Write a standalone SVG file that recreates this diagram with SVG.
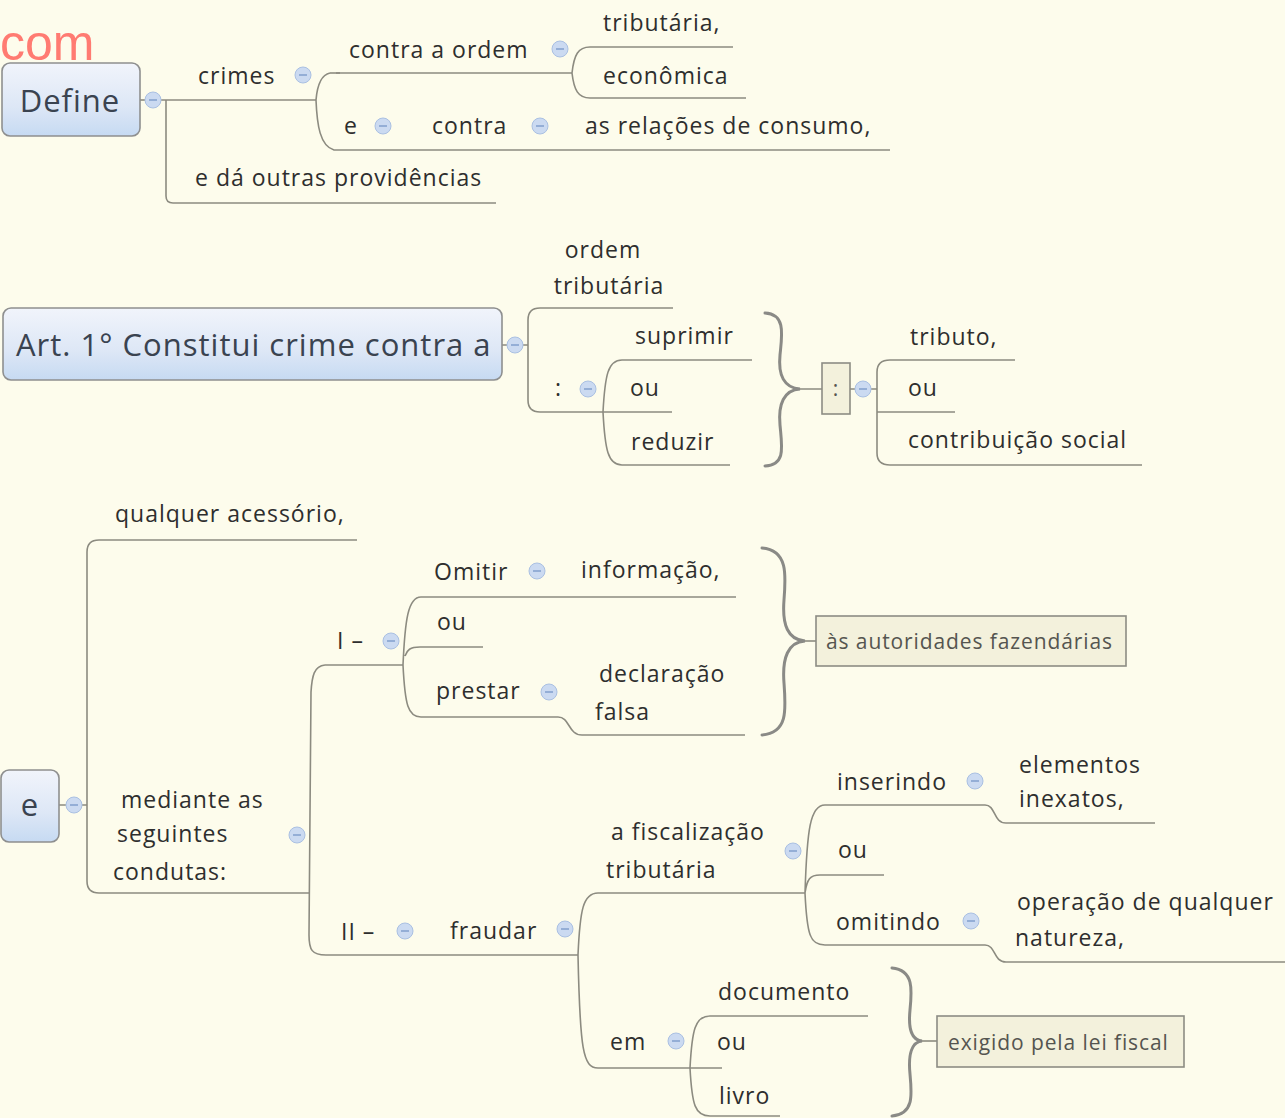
<svg xmlns="http://www.w3.org/2000/svg" width="1285" height="1118" viewBox="0 0 1285 1118">
<defs>
<linearGradient id="ng" x1="0" y1="0" x2="0" y2="1">
<stop offset="0" stop-color="#f1f4fb"/>
<stop offset="0.6" stop-color="#dde7f6"/>
<stop offset="1" stop-color="#c6daf2"/>
</linearGradient>
<style>
.bg{fill:#fdfcec}
.node{fill:url(#ng);stroke:#8e8f8f;stroke-width:1.6}
.nt{font-family:"Open Sans","Noto Sans",sans-serif;font-size:31px;letter-spacing:1px;fill:#3a4350}
.t{font-family:"Open Sans","Noto Sans",sans-serif;font-size:23px;letter-spacing:1px;fill:#2e2e2e}
.bt{font-family:"Open Sans","Noto Sans",sans-serif;font-size:21px;letter-spacing:0.9px;fill:#555550}
.box{fill:#f3f1dc;stroke:#8c8c84;stroke-width:1.6}
.ln{fill:none;stroke:#8c8b80;stroke-width:1.6}
.br{fill:none;stroke:#8a8a86;stroke-width:3;stroke-linecap:round}
.cc{fill:#cbdaf1;stroke:#aac0e2;stroke-width:1}
.cm{stroke:#7d9bcb;stroke-width:1.4}
</style>
</defs>
<rect class="bg" x="0" y="0" width="1285" height="1118"/>
<text x="0" y="60" font-family="Liberation Sans, Arial, sans-serif" font-size="50" fill="#ff7b72">com</text>

<g id="connectors">
<!-- Define -->
<path class="ln" d="M140 100 H145"/>
<path class="ln" d="M161 100 H316"/>
<path class="ln" d="M166 100 V196 Q166 203 173 203 H496"/>
<path class="ln" d="M336 73 H572 M330 73 C320 75 317 88 316 100 C317 125 320 146 334 150 H890"/>
<path class="ln" d="M330 73 H340"/>
<path class="ln" d="M572 73 C574 55 578 47 590 47 H733 M572 73 C574 90 578 98 590 98 H746"/>
<!-- Art 1 -->
<path class="ln" d="M502 345 H507 M523 345 H528"/>
<path class="ln" d="M540 308 H673 M540 308 Q528 308 528 320 V400 Q528 412 540 412 H672"/>
<path class="ln" d="M603 412 C605 375 608 360 622 360 H752 M603 412 C605 450 608 465 622 465 H730"/>
<path class="br" d="M765 313 C786 314 782 335 780 355 C778 375 784 388 800 389 C784 390 778 404 780 425 C782 447 786 465 765 466"/>
<path class="ln" d="M800 389 H822 M850 389 H855 M871 389 H877"/>
<path class="ln" d="M890 360 H1015 M890 360 Q877 360 877 372 V453 Q877 465 890 465 H1142 M877 412 H955"/>
<!-- e -->
<path class="ln" d="M59 805 H66 M82 805 H87"/>
<path class="ln" d="M99 540 H357 M99 540 Q87 540 87 552 V881 Q87 893 99 893 H310"/>
<path class="ln" d="M325 665 H403 M325 665 C314 666 312 676 311 692 L309 935 C309 950 312 955 326 955 H578"/>
<path class="ln" d="M403 665 C405 620 408 597 421 597 H736 M403 665 C405 705 408 717 421 717 H558 C570 717 568 735 582 735 H745 M405 656 C407 650 410 647 420 647 H483"/>
<path class="br" d="M762 548 C788 550 786 575 784 600 C782 625 788 640 805 641 C788 642 782 658 784 683 C786 710 788 733 762 735"/>
<path class="ln" d="M805 641 H816"/>
<path class="ln" d="M578 955 C580 910 583 893 598 893 H805 M578 955 C580 1050 583 1068 598 1068 H722"/>
<path class="ln" d="M805 893 C807 830 810 805 825 805 H985 C996 805 993 823 1006 823 H1155 M805 893 C807 879 810 875 820 875 H884 M805 893 C807 935 810 945 825 945 H985 C996 945 993 962 1006 962 H1285"/>
<path class="ln" d="M690 1068 C692 1030 695 1016 710 1016 H868 M690 1068 C692 1105 695 1116 710 1116 H780"/>
<path class="br" d="M892 968 C914 970 912 990 910 1010 C908 1030 912 1040 922 1041 C912 1042 908 1054 910 1074 C912 1095 914 1114 892 1116"/>
<path class="ln" d="M922 1041 H937"/>
</g>

<g id="node-define">
<rect class="node" x="2" y="63" width="138" height="73" rx="8"/>
<text class="nt" x="70" y="112" text-anchor="middle">Define</text>
<circle class="cc" cx="153" cy="100" r="8"/><line class="cm" x1="149" y1="100" x2="157" y2="100"/>
</g>
<g id="n-crimes"><text class="t" x="198" y="84">crimes</text><circle class="cc" cx="303" cy="75" r="8"/><line class="cm" x1="299" y1="75" x2="307" y2="75"/></g>
<g id="n-contra-ordem"><text class="t" x="349" y="58">contra a ordem</text><circle class="cc" cx="560" cy="49" r="8"/><line class="cm" x1="556" y1="49" x2="564" y2="49"/></g>
<g id="n-tributaria"><text class="t" x="603" y="31">tributária,</text></g>
<g id="n-economica"><text class="t" x="603" y="84">econômica</text></g>
<g id="n-e1"><text class="t" x="344" y="134">e</text><circle class="cc" cx="383" cy="126" r="8"/><line class="cm" x1="379" y1="126" x2="387" y2="126"/></g>
<g id="n-contra"><text class="t" x="432" y="134">contra</text><circle class="cc" cx="540" cy="126" r="8"/><line class="cm" x1="536" y1="126" x2="544" y2="126"/></g>
<g id="n-relacoes"><text class="t" x="585" y="134">as relações de consumo,</text></g>
<g id="n-outras"><text class="t" x="195" y="186">e dá outras providências</text></g>

<g id="node-art1">
<rect class="node" x="3" y="308" width="499" height="72" rx="8"/>
<text class="nt" x="16" y="356">Art. 1° Constitui crime contra a</text>
<circle class="cc" cx="515" cy="345" r="8"/><line class="cm" x1="511" y1="345" x2="519" y2="345"/>
</g>
<g id="n-ordem-trib"><text class="t" x="603" y="258" text-anchor="middle">ordem</text><text class="t" x="609" y="294" text-anchor="middle">tributária</text></g>
<g id="n-colon1"><text class="t" x="555" y="396">:</text><circle class="cc" cx="588" cy="389" r="8"/><line class="cm" x1="584" y1="389" x2="592" y2="389"/></g>
<g id="n-suprimir"><text class="t" x="635" y="344">suprimir</text></g>
<g id="n-ou1"><text class="t" x="630" y="396">ou</text></g>
<g id="n-reduzir"><text class="t" x="631" y="450">reduzir</text></g>
<g id="n-colon2"><rect class="box" x="822" y="363" width="28" height="51"/><text class="bt" x="836" y="396" text-anchor="middle">:</text><circle class="cc" cx="863" cy="389" r="8"/><line class="cm" x1="859" y1="389" x2="867" y2="389"/></g>
<g id="n-tributo"><text class="t" x="910" y="345">tributo,</text></g>
<g id="n-ou2"><text class="t" x="908" y="396">ou</text></g>
<g id="n-contrib"><text class="t" x="908" y="448">contribuição social</text></g>

<g id="node-e">
<rect class="node" x="1" y="770" width="58" height="72" rx="8"/>
<text class="nt" x="30" y="816" text-anchor="middle">e</text>
<circle class="cc" cx="74" cy="805" r="8"/><line class="cm" x1="70" y1="805" x2="78" y2="805"/>
</g>
<g id="n-acessorio"><text class="t" x="115" y="522">qualquer acessório,</text></g>
<g id="n-mediante"><text class="t" x="121" y="808">mediante as</text><text class="t" x="117" y="842">seguintes</text><text class="t" x="113" y="880">condutas:</text><circle class="cc" cx="297" cy="835" r="8"/><line class="cm" x1="293" y1="835" x2="301" y2="835"/></g>
<g id="n-I"><text class="t" x="337" y="649">I –</text><circle class="cc" cx="391" cy="641" r="8"/><line class="cm" x1="387" y1="641" x2="395" y2="641"/></g>
<g id="n-omitir"><text class="t" x="434" y="580">Omitir</text><circle class="cc" cx="537" cy="571" r="8"/><line class="cm" x1="533" y1="571" x2="541" y2="571"/></g>
<g id="n-informacao"><text class="t" x="581" y="578">informação,</text></g>
<g id="n-ou3"><text class="t" x="437" y="630">ou</text></g>
<g id="n-prestar"><text class="t" x="436" y="699">prestar</text><circle class="cc" cx="549" cy="692" r="8"/><line class="cm" x1="545" y1="692" x2="553" y2="692"/></g>
<g id="n-declaracao"><text class="t" x="599" y="682">declaração</text><text class="t" x="595" y="720">falsa</text></g>
<g id="n-autoridades"><rect class="box" x="816" y="616" width="310" height="50"/><text class="bt" x="826" y="649">às autoridades fazendárias</text></g>
<g id="n-II"><text class="t" x="341" y="940">II –</text><circle class="cc" cx="405" cy="931" r="8"/><line class="cm" x1="401" y1="931" x2="409" y2="931"/></g>
<g id="n-fraudar"><text class="t" x="450" y="939">fraudar</text><circle class="cc" cx="565" cy="929" r="8"/><line class="cm" x1="561" y1="929" x2="569" y2="929"/></g>
<g id="n-fiscalizacao"><text class="t" x="611" y="840">a fiscalização</text><text class="t" x="606" y="878">tributária</text><circle class="cc" cx="793" cy="851" r="8"/><line class="cm" x1="789" y1="851" x2="797" y2="851"/></g>
<g id="n-inserindo"><text class="t" x="837" y="790">inserindo</text><circle class="cc" cx="975" cy="781" r="8"/><line class="cm" x1="971" y1="781" x2="979" y2="781"/></g>
<g id="n-elementos"><text class="t" x="1019" y="773">elementos</text><text class="t" x="1019" y="807">inexatos,</text></g>
<g id="n-ou4"><text class="t" x="838" y="858">ou</text></g>
<g id="n-omitindo"><text class="t" x="836" y="930">omitindo</text><circle class="cc" cx="971" cy="921" r="8"/><line class="cm" x1="967" y1="921" x2="975" y2="921"/></g>
<g id="n-operacao"><text class="t" x="1017" y="910">operação de qualquer</text><text class="t" x="1015" y="946">natureza,</text></g>
<g id="n-em"><text class="t" x="610" y="1050">em</text><circle class="cc" cx="676" cy="1041" r="8"/><line class="cm" x1="672" y1="1041" x2="680" y2="1041"/></g>
<g id="n-documento"><text class="t" x="718" y="1000">documento</text></g>
<g id="n-ou5"><text class="t" x="717" y="1050">ou</text></g>
<g id="n-livro"><text class="t" x="719" y="1104">livro</text></g>
<g id="n-exigido"><rect class="box" x="937" y="1016" width="247" height="51"/><text class="bt" x="948" y="1050">exigido pela lei fiscal</text></g>
</svg>
